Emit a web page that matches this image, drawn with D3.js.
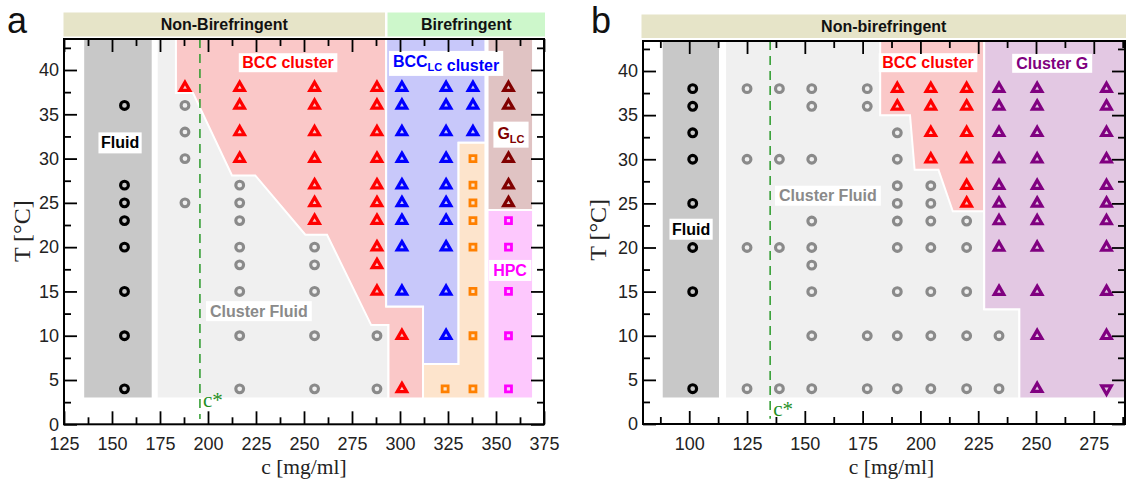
<!DOCTYPE html>
<html><head><meta charset="utf-8">
<script src="https://cdn.jsdelivr.net/npm/d3@7"></script>
<style>
body{margin:0;background:#fff}
svg{display:block}
</style>
</head><body>
<svg id="chart" width="1126" height="479"></svg>
<script>
// ---------------- DATA : panel a ----------------
const aXMajor = [125,150,175,200,225,250,275,300,325,350,375];
const aXMinor = [137.5,162.5,187.5,212.5,237.5,262.5,287.5,312.5,337.5,362.5];
const yMajor = [0,5,10,15,20,25,30,35,40];
const yMinor = [2.5,7.5,12.5,17.5,22.5,27.5,32.5,37.5,42.5];
const aCstar = 195.8;

const aFluid = [{c:156.5, T:[36,27,25,23,20,15,10,4]}];
const aClusterFluid = [
  {c:188, T:[36,33,30,25]},
  {c:216.5, T:[27,25,23,20,18,15,10,4]},
  {c:255.5, T:[20,18,15,10,4]},
  {c:288, T:[10,4]}];
const aBcc = [
  {c:188, T:[38]},
  {c:216.5, T:[38,36,33,30]},
  {c:255.5, T:[38,36,33,30,27,25,23]},
  {c:288, T:[38,36,33,30,27,25,23,20,18,15]},
  {c:301, T:[10,4]}];
const aBccLC = [
  {c:301, T:[38,36,33,30,27,25,23,20,15]},
  {c:324, T:[38,36,33,30,27,25,23,20,15,10]},
  {c:338, T:[38,36,33]}];
const aOrangeSq = [{c:338, T:[30,27,25,23,20,15,10,4]}, {c:323.5, T:[4]}];
const aGLC = [{c:356.5, T:[38,36,30,27,25]}];
const aHPC = [{c:356.5, T:[23,20,15,10,4]}];

// phase regions (c, T)
const aRegFluid = [[135,43.5],[171.2,43.5],[171.2,2.9],[135,2.9]];
const aRegClusterFluid = [[173.3,43.5],[294,43.5],[294,2.9],[173.3,2.9]];
const aRegBcc = [[183.3,43.5],[292.8,43.5],[292.8,13.3],[312,13.3],[312,2.9],[294,2.9],[294,11.2],[285,11.2],[262,21.4],[250.7,21.4],[224.6,28.1],[212.5,28.1],[192.2,37.4],[183.3,37.4]];
const aRegBccLC = [[292.8,43.5],[344.5,43.5],[344.5,31.8],[330.5,31.8],[330.5,6.8],[312,6.8],[312,13.3],[292.8,13.3]];
const aRegOrange = [[330.5,31.8],[344.5,31.8],[344.5,2.9],[312,2.9],[312,6.8],[330.5,6.8]];
const aRegGLC = [[345.6,43.5],[369.3,43.5],[369.3,24.2],[345.6,24.2]];
const aRegHPC = [[345.6,24.2],[369.3,24.2],[369.3,2.9],[345.6,2.9]];

// ---------------- DATA : panel b ----------------
const bXMajor = [100,125,150,175,200,225,250,275];
const bXMinor = [87.5,112.5,137.5,162.5,187.5,212.5,237.5,262.5,287.5];
const bCstar = 135;

const bFluid = [{c:101.5, T:[38,36,33,30,25,20,15,4]}];
const bClusterFluid = [
  {c:125, T:[38,30,20,4]},
  {c:139, T:[38,30,20,4]},
  {c:153, T:[38,36,30,23,20,18,15,10,4]},
  {c:177, T:[38,36,10,4]},
  {c:190, T:[33,30,27,25,23,20,15,10,4]},
  {c:204.5, T:[27,25,23,20,15,10,4]},
  {c:220, T:[23,20,15,10,4]},
  {c:234, T:[10,4]}];
const bBcc = [
  {c:190, T:[38,36]},
  {c:204.5, T:[38,36,33,30]},
  {c:220, T:[38,36,33,30,27,25]}];
const bClusterG = [
  {c:234, T:[38,36,33,30,27,25,23,20,15]},
  {c:250.5, T:[38,36,33,30,27,25,23,20,15,10,4]},
  {c:280.5, T:[38,36,33,30,27,25,23,20,15,10]}];
const bClusterGDown = [{c:280.5, T:[4]}];

const bRegFluid = [[88.1,43.5],[113.3,43.5],[113.3,2.9],[88.1,2.9]];
const bRegClusterFluid = [[115.5,43.5],[227.6,43.5],[227.6,13],[242.8,13],[242.8,2.9],[115.5,2.9]];
const bRegBcc = [[182.6,43.5],[227.6,43.5],[227.6,24.1],[214,24.1],[207.8,28.8],[197.5,28.8],[195.5,35],[182.6,35]];
const bRegClusterG = [[227.6,43.5],[290,43.5],[290,2.9],[242.8,2.9],[242.8,13],[227.6,13]];

// ---------------- DRAWING ----------------
const svg = d3.select('#chart');
const SANS = "'Liberation Sans', Arial, Helvetica, sans-serif";
const SERIF = "'Liberation Serif', 'Times New Roman', serif";

const xA = d3.scaleLinear().domain([125,375]).range([64,544]);
const yA = d3.scaleLinear().domain([0,43.5]).range([424.3,39]);
const xB = d3.scaleLinear().domain([80,288.5]).range([643,1125]);
const yB = d3.scaleLinear().domain([0,43.4]).range([424,41]);

function clipFor(id, x, y){
  svg.append('clipPath').attr('id',id).append('rect')
    .attr('x',x.range()[0]).attr('y',y.range()[1])
    .attr('width',x.range()[1]-x.range()[0]).attr('height',y.range()[0]-y.range()[1]);
}
clipFor('clipA', xA, yA);
clipFor('clipB', xB, yB);

function region(g, x, y, pts, fill){
  const line = d3.line().x(d=>x(d[0])).y(d=>y(d[1]));
  g.append('path').attr('d', line(pts)+'Z').attr('fill',fill)
    .attr('stroke','#fff').attr('stroke-width',2).attr('stroke-linejoin','miter');
}

function flat(cols){ const out=[]; cols.forEach(col=>col.T.forEach(t=>out.push([col.c,t]))); return out; }

function markers(g, x, y, cols, type, color){
  const pts = flat(cols);
  if(type==='circle'){
    g.selectAll(null).data(pts).enter().append('circle')
      .attr('cx',d=>x(d[0])).attr('cy',d=>y(d[1])).attr('r',3.9)
      .attr('fill','none').attr('stroke',color).attr('stroke-width',3.1);
  } else {
    const sym = type==='square' ? d3.symbolSquare : d3.symbolTriangle;
    const size = type==='square' ? 36 : 39;
    g.selectAll(null).data(pts).enter().append('path')
      .attr('d', d3.symbol().type(sym).size(size)())
      .attr('transform', d=>`translate(${x(d[0])},${y(d[1])})` + (type==='down' ? ' rotate(180)' : ''))
      .attr('fill','none').attr('stroke',color).attr('stroke-width',type==='square'?2.8:3.2)
      .attr('stroke-linejoin','miter');
  }
}

function labelBox(g, cx, cy, parts, color, padX=3.5, padY=1){
  const rect = g.append('rect').attr('fill','#fff');
  const t = g.append('text').attr('x',cx).attr('y',cy).attr('dy','0.36em')
    .attr('text-anchor','middle').attr('font-family',SANS).attr('font-weight','bold')
    .attr('font-size',16).attr('fill',color);
  parts.forEach(p=>{
    if(p.sub){
      t.append('tspan').attr('font-size',11).attr('dy',4).text(p.sub);
      t.append('tspan').attr('dy',-4).text('');
    } else t.append('tspan').text(p.t);
  });
  const bb = t.node().getBBox();
  rect.attr('x',bb.x-padX).attr('y',bb.y-padY).attr('width',bb.width+2*padX).attr('height',bb.height+2*padY);
}

function axes(g, x, y, xMaj, xMin, yMaj, yMin){
  const [y0,y1] = y.range();
  const [x0,x1] = x.range();
  const style = s => { s.select('.domain').remove(); s.selectAll('line').attr('stroke','#000').attr('stroke-width',1.8);
    s.attr('font-family',SANS).attr('font-size',18); s.selectAll('text').attr('fill','#222'); };
  g.append('g').attr('transform',`translate(0,${y0})`)
    .call(d3.axisBottom(x).tickValues(xMaj).tickSize(-13).tickPadding(13).tickFormat(d3.format('d'))).call(style);
  g.append('g').attr('transform',`translate(0,${y0})`)
    .call(d3.axisBottom(x).tickValues(xMin).tickSize(-7).tickFormat('')).call(style);
  g.append('g').attr('transform',`translate(0,${y1})`)
    .call(d3.axisTop(x).tickValues(xMaj).tickSize(-13).tickFormat('')).call(style);
  g.append('g').attr('transform',`translate(0,${y1})`)
    .call(d3.axisTop(x).tickValues(xMin).tickSize(-7).tickFormat('')).call(style);
  g.append('g').attr('transform',`translate(${x0},0)`)
    .call(d3.axisLeft(y).tickValues(yMaj).tickSize(-13).tickPadding(5).tickFormat(d3.format('d'))).call(style);
  g.append('g').attr('transform',`translate(${x0},0)`)
    .call(d3.axisLeft(y).tickValues(yMin).tickSize(-7).tickFormat('')).call(style);
  g.append('g').attr('transform',`translate(${x1},0)`)
    .call(d3.axisRight(y).tickValues(yMaj).tickSize(-13).tickFormat('')).call(style);
  g.append('g').attr('transform',`translate(${x1},0)`)
    .call(d3.axisRight(y).tickValues(yMin).tickSize(-7).tickFormat('')).call(style);
  g.append('rect').attr('x',x0).attr('y',y1).attr('width',x1-x0).attr('height',y0-y1)
    .attr('fill','none').attr('stroke','#000').attr('stroke-width',2);
}

function banner(x0, x1, y0, y1, fill, label){
  svg.append('rect').attr('x',x0).attr('y',y0).attr('width',x1-x0).attr('height',y1-y0).attr('fill',fill);
  svg.append('text').attr('x',(x0+x1)/2).attr('y',(y0+y1)/2).attr('dy','0.36em')
    .attr('text-anchor','middle').attr('font-family',SANS).attr('font-weight','bold')
    .attr('font-size',16).attr('fill','#111').text(label);
}

// ---------- Panel a ----------
banner(63.5, 385, 12.5, 36.5, '#e6e4c8', 'Non-Birefringent');
banner(387.5, 545, 12.5, 36.5, '#cdf7cb', 'Birefringent');

const gA = svg.append('g');
const gAr = gA.append('g').attr('clip-path','url(#clipA)');
region(gAr, xA, yA, aRegFluid, '#c8c8c8');
region(gAr, xA, yA, aRegClusterFluid, '#f0f0f0');
region(gAr, xA, yA, aRegBcc, '#fac8c8');
region(gAr, xA, yA, aRegBccLC, '#c8c8fa');
region(gAr, xA, yA, aRegOrange, '#fde4cc');
region(gAr, xA, yA, aRegGLC, '#e0c3c3');
region(gAr, xA, yA, aRegHPC, '#fdc8fd');

gA.append('line').attr('x1',xA(aCstar)).attr('x2',xA(aCstar)).attr('y1',yA(43.5)).attr('y2',yA(0.6))
  .attr('stroke','#2a9a2a').attr('stroke-width',1.5).attr('stroke-dasharray','9,6');
gA.append('text').attr('x',xA(aCstar)+3).attr('y',yA(2.0)).attr('font-family',SERIF)
  .attr('font-size',21).attr('fill','#1f8f1f').text('c*');

markers(gA, xA, yA, aFluid, 'circle', '#000');
markers(gA, xA, yA, aClusterFluid, 'circle', '#8a8a8a');
markers(gA, xA, yA, aBcc, 'tri', '#ff0000');
markers(gA, xA, yA, aBccLC, 'tri', '#0000ff');
markers(gA, xA, yA, aOrangeSq, 'square', '#ff8000');
markers(gA, xA, yA, aGLC, 'tri', '#800000');
markers(gA, xA, yA, aHPC, 'square', '#ff00ff');

labelBox(gA, xA(154.2), yA(31.8), [{t:'Fluid'}], '#000', 2.5, 2);
labelBox(gA, xA(241.7), yA(40.85), [{t:'BCC cluster'}], '#ff0000');
labelBox(gA, xA(324), yA(41.0), [{t:'BCC'},{sub:'LC'},{t:' cluster'}], '#0000ff', 4, 2);
labelBox(gA, xA(357.8), yA(32.9), [{t:'G'},{sub:'LC'}], '#800000', 4, 3);
labelBox(gA, xA(357.3), yA(17.4), [{t:'HPC'}], '#ff00ff', 4, 2);
labelBox(gA, xA(226.5), yA(12.8), [{t:'Cluster Fluid'}], '#8a8a8a', 4, 1.5);

axes(gA, xA, yA, aXMajor, aXMinor, yMajor, yMinor);

svg.append('text').attr('transform',`translate(22,${yA(21.8)}) rotate(-90)`).attr('text-anchor','middle')
  .attr('dy','0.35em').attr('font-family',SERIF).attr('font-size',24).attr('fill','#222').text('T [°C]');
svg.append('text').attr('x',xA(250)).attr('y',474).attr('text-anchor','middle')
  .attr('font-family',SERIF).attr('font-size',21.5).attr('fill','#222').text('c [mg/ml]');
svg.append('text').attr('x',7).attr('y',33).attr('font-family',SANS).attr('font-size',36).attr('fill','#111').text('a');

// ---------- Panel b ----------
banner(641.5, 1126, 14.5, 38, '#e6e4c8', 'Non-birefringent');

const gB = svg.append('g');
const gBr = gB.append('g').attr('clip-path','url(#clipB)');
region(gBr, xB, yB, bRegFluid, '#c8c8c8');
region(gBr, xB, yB, bRegClusterFluid, '#f0f0f0');
region(gBr, xB, yB, bRegBcc, '#fac8c8');
region(gBr, xB, yB, bRegClusterG, '#e3c8e3');

gB.append('line').attr('x1',xB(bCstar)).attr('x2',xB(bCstar)).attr('y1',yB(43.4)).attr('y2',yB(0.6))
  .attr('stroke','#2a9a2a').attr('stroke-width',1.5).attr('stroke-dasharray','9,6');
gB.append('text').attr('x',xB(bCstar)+3).attr('y',yB(0.9)).attr('font-family',SERIF)
  .attr('font-size',21).attr('fill','#1f8f1f').text('c*');

markers(gB, xB, yB, bFluid, 'circle', '#000');
markers(gB, xB, yB, bClusterFluid, 'circle', '#8a8a8a');
markers(gB, xB, yB, bBcc, 'tri', '#ff0000');
markers(gB, xB, yB, bClusterG, 'tri', '#800080');
markers(gB, xB, yB, bClusterGDown, 'down', '#800080');

labelBox(gB, xB(100.8), yB(22.1), [{t:'Fluid'}], '#000', 2.5, 2);
labelBox(gB, xB(160), yB(25.9), [{t:'Cluster Fluid'}], '#8a8a8a', 4, 1.5);
labelBox(gB, xB(203.3), yB(40.97), [{t:'BCC cluster'}], '#ff0000');
labelBox(gB, xB(257), yB(40.9), [{t:'Cluster G'}], '#800080', 4, 1);

axes(gB, xB, yB, bXMajor, bXMinor, yMajor, yMinor);

svg.append('text').attr('transform',`translate(598,${yB(22)}) rotate(-90)`).attr('text-anchor','middle')
  .attr('dy','0.35em').attr('font-family',SERIF).attr('font-size',24).attr('fill','#222').text('T [°C]');
svg.append('text').attr('x',xB(187.5)).attr('y',474).attr('text-anchor','middle')
  .attr('font-family',SERIF).attr('font-size',21.5).attr('fill','#222').text('c [mg/ml]');
svg.append('text').attr('x',591).attr('y',33).attr('font-family',SANS).attr('font-size',36).attr('fill','#111').text('b');
</script>
</body></html>
